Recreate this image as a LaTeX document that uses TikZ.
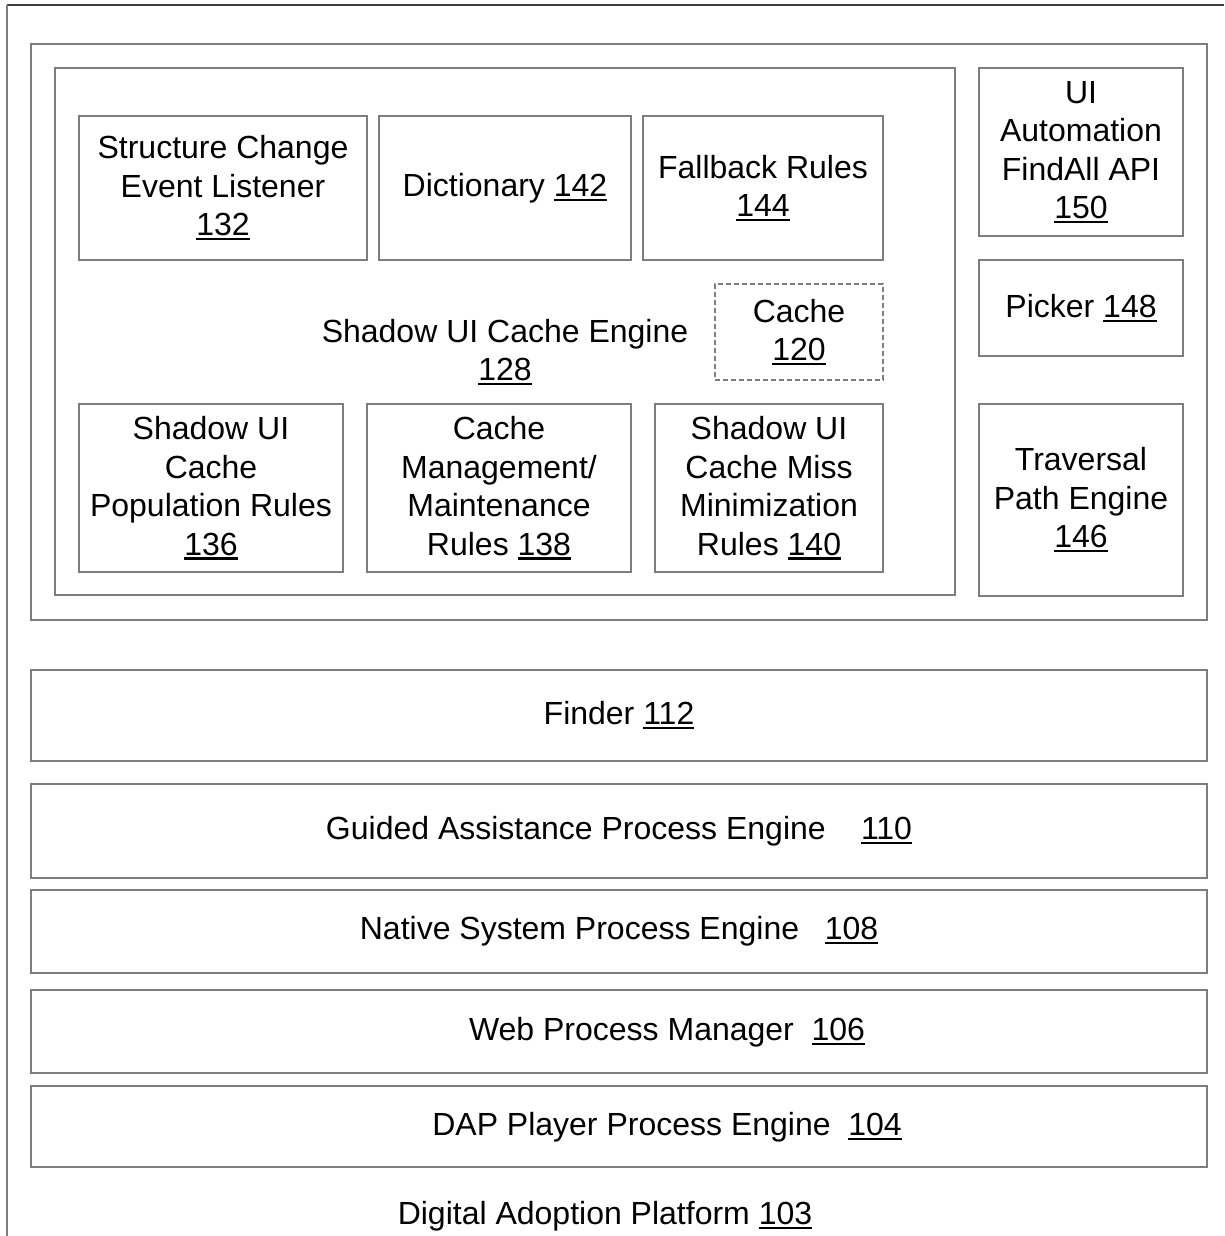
\documentclass[tikz,border=0pt]{standalone}
\usepackage{fontspec}
\setmainfont{Liberation Sans}
\definecolor{linegray}{RGB}{125,125,125}
\definecolor{darkline}{RGB}{60,60,60}
\newcommand{\ulnum}[1]{\setbox0\hbox{#1}\rlap{\rule[-4.5pt]{\wd0}{2.2pt}}\box0}
\tikzset{
  bx/.style={draw=linegray, line width=1.6pt, anchor=north west, inner sep=0pt, outer sep=0pt,
    font=\fontsize{32}{38.5}\selectfont, align=center},
  dashbx/.style={bx, dash pattern=on 5pt off 3pt},
  lbl/.style={font=\fontsize{32}{38.5}\selectfont, align=center, inner sep=0pt},
}
\begin{document}
\begin{tikzpicture}[x=1pt,y=-1pt]
\useasboundingbox (0,0) rectangle (1224,1236);
% outer frame (cut off at right and bottom)
\coordinate (otr) at (1224,5);
\coordinate (otl) at (7,5);
\coordinate (obl) at (7,1236);
\draw[darkline, line width=1.6pt] (otr) -- (otl);
\draw[linegray, line width=1.6pt] (otl) -- (obl);
% container
\node[bx, minimum width=1176pt, minimum height=576pt] (cont) at (31,44) {};
\node[bx, minimum width=900pt, minimum height=527pt] (eng) at (55,68) {};
% top row
\node[bx, minimum width=288pt, minimum height=144pt] (n132) at (79,116) {Structure Change\\Event Listener\\\ulnum{132}};
\node[bx, minimum width=252pt, minimum height=144pt] (n142) at (379,116) {Dictionary \ulnum{142}};
\node[bx, minimum width=240pt, minimum height=144pt] (n144) at (643,116) {Fallback Rules\\\ulnum{144}};
% cache
\node[dashbx, minimum width=168pt, minimum height=96pt] (n120) at (715,284) {Cache\\\ulnum{120}};
\node[lbl] (n128) at (505,352) {Shadow UI Cache Engine\\\ulnum{128}};
% bottom row
\node[bx, minimum width=264pt, minimum height=168pt] (n136) at (79,404) {Shadow UI\\Cache\\Population Rules\\\ulnum{136}};
\node[bx, minimum width=264pt, minimum height=168pt] (n138) at (367,404) {Cache\\Management/\\Maintenance\\Rules \ulnum{138}};
\node[bx, minimum width=228pt, minimum height=168pt] (n140) at (655,404) {Shadow UI\\Cache Miss\\Minimization\\Rules \ulnum{140}};
% right column
\node[bx, minimum width=204pt, minimum height=168pt] (n150) at (979,68) {UI\\Automation\\FindAll API\\\ulnum{150}};
\node[bx, minimum width=204pt, minimum height=96pt] (n148) at (979,260) {Picker \ulnum{148}};
\node[bx, minimum width=204pt, minimum height=192pt] (n146) at (979,404) {Traversal\\Path Engine\\\ulnum{146}};
% layers
\node[bx, minimum width=1176pt, minimum height=91pt] (n112) at (31,670) {Finder \ulnum{112}};
\node[bx, minimum width=1176pt, minimum height=94pt] (n110) at (31,784) {Guided Assistance Process Engine\hspace{1.1em}\ulnum{110}};
\node[bx, minimum width=1176pt, minimum height=83pt] (n108) at (31,890) {Native System Process Engine\hspace{0.8em}\ulnum{108}};
\node[bx, minimum width=1176pt, minimum height=83pt] (n106) at (31,990) {};
\node[lbl] (t106) at (667,1032) {Web Process Manager\hspace{0.55em}\ulnum{106}};
\node[bx, minimum width=1176pt, minimum height=81pt] (n104) at (31,1086) {};
\node[lbl] (t104) at (667,1127) {DAP Player Process Engine\hspace{0.55em}\ulnum{104}};
\node[lbl] (n103) at (605,1216) {Digital Adoption Platform \ulnum{103}};
\end{tikzpicture}
\end{document}
